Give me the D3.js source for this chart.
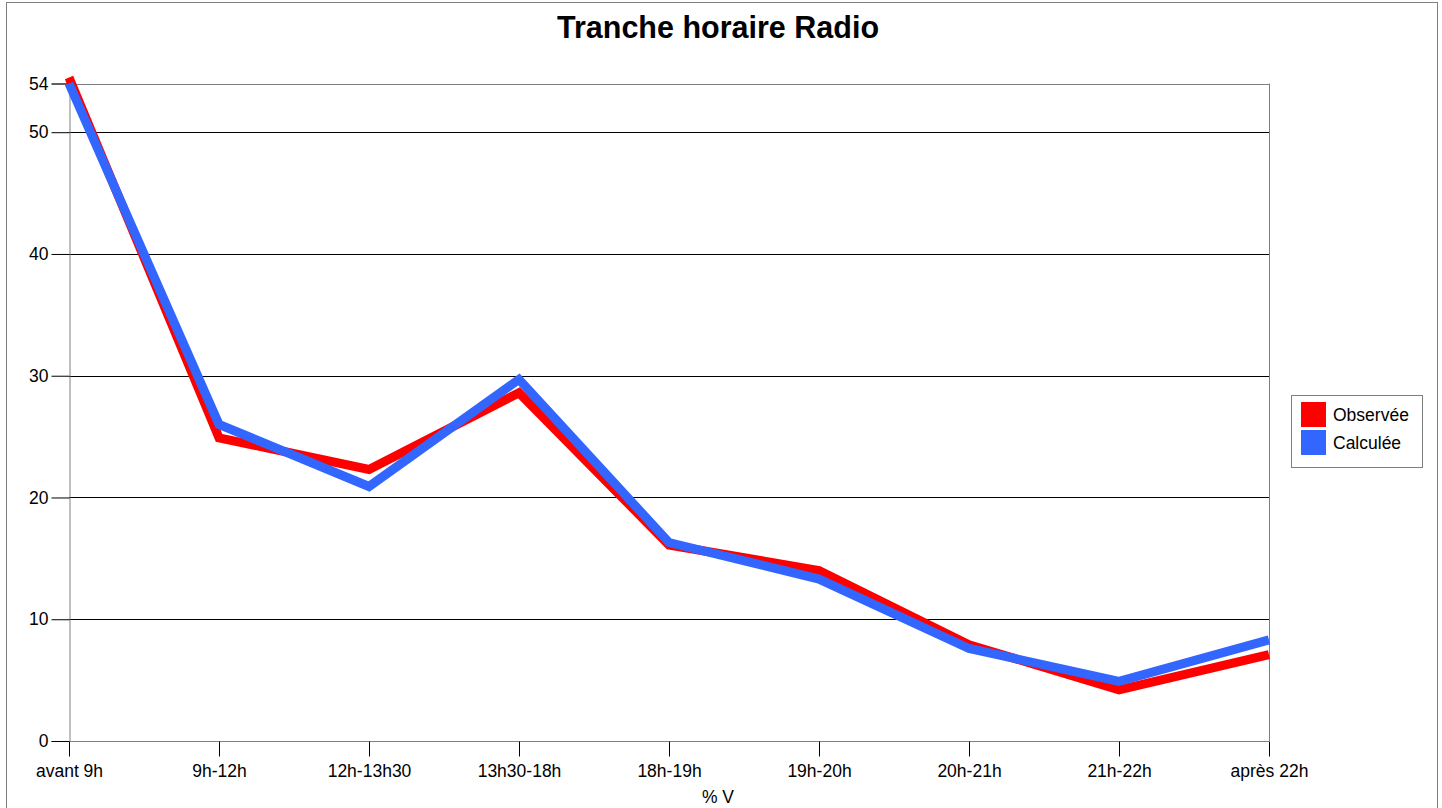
<!DOCTYPE html>
<html><head><meta charset="utf-8">
<script src="https://cdn.jsdelivr.net/npm/d3@7"></script>
<style>body{margin:0;background:#fff;}svg{display:block;font-family:"Liberation Sans",Arial,sans-serif;}</style>
</head><body>
<script>
const categories = ["avant 9h","9h-12h","12h-13h30","13h30-18h","18h-19h","19h-20h","20h-21h","21h-22h","après 22h"];
const observee = [54.5, 24.9, 22.3, 28.6, 16.1, 14.0, 7.9, 4.2, 7.1];
const calculee = [54.0, 26.0, 20.9, 29.7, 16.3, 13.3, 7.6, 4.9, 8.3];
const yTicks = [0, 10, 20, 30, 40, 50, 54];
const seriesNames = ["Observée", "Calculée"];
const seriesColors = ["#ff0000", "#3366ff"];

(function(){
const W = 1442, H = 808;
const FF = "Liberation Sans, Arial, sans-serif";
const svg = d3.select("body").append("svg").attr("width", W).attr("height", H);
svg.append("rect").attr("x",6.5).attr("y",2.5).attr("width",1431).attr("height",820)
  .attr("fill","none").attr("stroke","#808080");

const pL = 69, pR = 1269, pT = 83.5, pB = 741;
const x = d3.scalePoint().domain(categories).range([pL, pR]);
const y = d3.scaleLinear().domain([0, 54]).range([pB, pT]);

// gridlines
svg.append("g").selectAll("line").data(yTicks.filter(t => t > 0 && t < 54)).join("line")
  .attr("x1", pL).attr("x2", pR).attr("y1", d => Math.round(y(d))+0.5).attr("y2", d => Math.round(y(d))+0.5)
  .attr("stroke", "#000").attr("stroke-width", 1);
// plot frame top/right
svg.append("line").attr("x1",pL).attr("x2",pR).attr("y1",Math.round(y(54))+0.5).attr("y2",Math.round(y(54))+0.5).attr("stroke","#808080");
svg.append("line").attr("x1",pR+0.5).attr("x2",pR+0.5).attr("y1",y(54)).attr("y2",pB).attr("stroke","#808080");

// y axis
const yAxis = svg.append("g").attr("transform", `translate(${pL+0.5},0)`)
  .call(d3.axisLeft(y).tickValues(yTicks).tickSize(18).tickPadding(3).tickFormat(d3.format("d")));
yAxis.select(".domain").attr("stroke","#808080");
yAxis.selectAll(".tick line").attr("stroke","#000");
yAxis.selectAll(".tick text").attr("font-size",17.5).attr("fill","#000").attr("font-family",FF);

// x axis
const xAxis = svg.append("g").attr("transform", `translate(0,${pB+0.5})`)
  .call(d3.axisBottom(x).tickSize(15).tickPadding(8.5));
xAxis.select(".domain").attr("stroke","#808080").attr("d", `M${pL},0H${pR}`);
xAxis.selectAll(".tick line").attr("stroke","#000");
xAxis.selectAll(".tick text").attr("font-size",17.5).attr("fill","#000").attr("font-family",FF);

// lines
const line = d3.line().x((d,i) => x(categories[i])).y(d => y(d));
[observee, calculee].forEach((s, k) => {
  svg.append("path").datum(s).attr("d", line).attr("fill","none")
    .attr("stroke", seriesColors[k]).attr("stroke-width", 9).attr("stroke-linejoin","miter");
});

// title
svg.append("text").attr("x", 718).attr("y", 38).attr("text-anchor","middle")
  .attr("font-size", 30.5).attr("font-weight","bold").text("Tranche horaire Radio");
// x axis title
svg.append("text").attr("x", 718).attr("y", 803).attr("text-anchor","middle")
  .attr("font-size", 17.5).text("% V");

// legend
const lg = svg.append("g");
lg.append("rect").attr("x",1291.5).attr("y",395.5).attr("width",131).attr("height",72)
  .attr("fill","#fff").attr("stroke","#808080");
seriesNames.forEach((n, i) => {
  lg.append("rect").attr("x",1301).attr("y",402 + i*28).attr("width",25).attr("height",25).attr("fill",seriesColors[i]);
  lg.append("text").attr("x",1333).attr("y",421 + i*28).attr("font-size",17.5).text(n);
});
})();
</script>
</body></html>
